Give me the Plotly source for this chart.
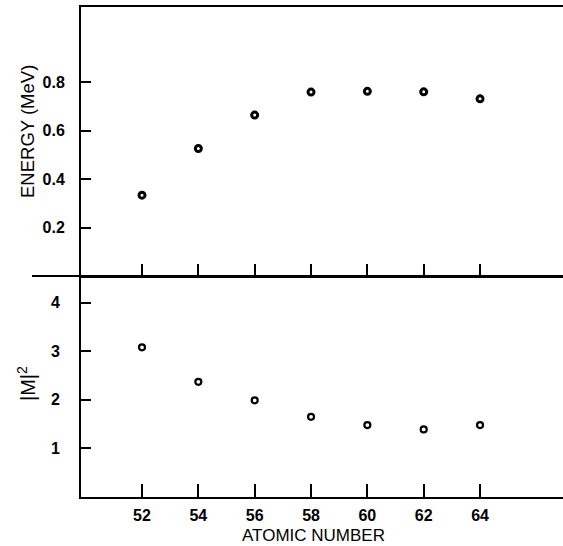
import plotly.graph_objects as go

atomic_number = [52, 54, 56, 58, 60, 62, 64]
energy_mev = [0.334, 0.527, 0.665, 0.760, 0.763, 0.761, 0.732]
m_squared = [3.08, 2.37, 1.99, 1.65, 1.48, 1.39, 1.48]

x_ticks = [52, 54, 56, 58, 60, 62, 64]
energy_ticks = [0.2, 0.4, 0.6, 0.8]
energy_tick_text = ["0.2", "0.4", "0.6", "0.8"]
m_ticks = [1, 2, 3, 4]
m_tick_text = ["1", "2", "3", "4"]

FONT = "Liberation Sans, Arial, Helvetica, sans-serif"

W, H = 563, 546
PL, PR, PT, PB = 81, 563, 7, 497
PW, PH = PR - PL, PB - PT
MID = 276
split = (PB - MID) / PH
unit = 28.17
x0 = 52 - (142 - PL) / unit
xr = [x0, x0 + PW / unit]


def px(x):
    return (x - PL) / PW


def py(y):
    return (PB - y) / PH


fig = go.Figure()
fig.add_trace(go.Scatter(
    x=atomic_number, y=energy_mev, xaxis="x2", yaxis="y2", mode="markers",
    marker=dict(symbol="circle", size=6, color="white", line=dict(color="black", width=3)),
    showlegend=False, hoverinfo="x+y"))
fig.add_trace(go.Scatter(
    x=atomic_number, y=m_squared, xaxis="x", yaxis="y", mode="markers",
    marker=dict(symbol="circle", size=6, color="white", line=dict(color="black", width=2.2)),
    showlegend=False, hoverinfo="x+y"))

ytickfont = dict(family=FONT, size=16, color="black", weight="bold")
xtickfont = dict(family=FONT, size=16, color="black", weight="bold")

fig.update_layout(
    width=W, height=H,
    margin=dict(l=PL, r=W - PR, t=PT, b=H - PB),
    paper_bgcolor="white", plot_bgcolor="white",
    xaxis=dict(domain=[0, 1], anchor="y", range=xr, tickvals=x_ticks,
               ticks="inside", ticklen=13, tickwidth=2, tickcolor="black",
               showline=True, linecolor="black", linewidth=2,
               showgrid=False, zeroline=False, tickfont=xtickfont,
               ticklabelstandoff=3),
    xaxis3=dict(overlaying="x", anchor="y", side="top", range=xr, tickvals=x_ticks,
                ticks="inside", ticklen=12, tickwidth=2, tickcolor="black",
                showticklabels=False, showline=False, showgrid=False, zeroline=False),
    xaxis2=dict(domain=[0, 1], anchor="y2", range=xr, tickvals=x_ticks,
                ticks="inside", ticklen=12, tickwidth=2, tickcolor="black",
                showticklabels=False, showline=True, mirror=True,
                linecolor="black", linewidth=2, showgrid=False, zeroline=False),
    yaxis=dict(domain=[0, split], anchor="x", range=[0, (PB - MID) / 48.6], tickvals=m_ticks,
               ticktext=m_tick_text, ticks="inside", ticklen=10, tickwidth=2,
               tickcolor="black", showline=True, linecolor="black", linewidth=2,
               showgrid=False, zeroline=False, tickfont=ytickfont,
               ticklabelstandoff=16),
    yaxis2=dict(domain=[split, 1], anchor="x2", range=[0, (MID - PT) / 242.0], tickvals=energy_ticks,
                ticktext=energy_tick_text, ticks="inside", ticklen=10, tickwidth=2,
                tickcolor="black", showline=True, linecolor="black", linewidth=2,
                showgrid=False, zeroline=False, tickfont=ytickfont,
                ticklabelstandoff=11),
    shapes=[dict(type="line", xref="paper", yref="paper", x0=px(32), x1=1,
                 y0=split, y1=split, line=dict(color="black", width=2))],
    annotations=[
        dict(text="ENERGY (MeV)", xref="paper", yref="paper",
             x=px(28), y=py(132), xanchor="center", yanchor="middle",
             textangle=-90, showarrow=False,
             font=dict(family=FONT, size=18.5, color="black")),
        dict(text="|M|<sup>2</sup>", xref="paper", yref="paper",
             x=px(26), y=py(384), xanchor="center", yanchor="middle",
             textangle=-90, showarrow=False,
             font=dict(family=FONT, size=20, color="black")),
        dict(text="ATOMIC NUMBER", xref="paper", yref="paper",
             x=px(313), y=py(535), xanchor="center", yanchor="middle",
             showarrow=False,
             font=dict(family=FONT, size=17, color="black")),
    ],
)

fig.write_html(
    "out.html",
    config={"displayModeBar": False},
    post_script="document.body.style.margin='0';document.body.style.overflow='hidden';",
)
